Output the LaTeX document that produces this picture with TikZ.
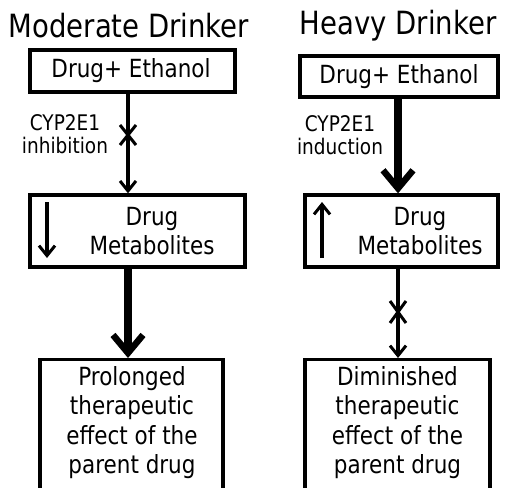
\documentclass[tikz,border=0pt]{standalone}
\usepackage{fontspec}
\setmainfont{DejaVu Sans}[FakeStretch=0.86]
\usetikzlibrary{arrows.meta,calc}
\tikzset{
  boxstyle/.style={draw, line width=3.3pt, inner sep=0pt},
  txt/.style={inner sep=0pt, align=center, font=\fontsize{25}{29.5}\selectfont},
  titletxt/.style={inner sep=0pt, font=\fontsize{32}{34}\selectfont},
  lbl/.style={inner sep=0pt, align=center, font=\fontsize{21.5}{22.5}\selectfont},
  thin arrow/.style={line width=3.2pt, -{Straight Barb[length=10pt,width=16pt,line width=3pt]}},
  thick arrow/.style={line width=8pt, -{Straight Barb[length=18pt,width=30pt,line width=6.5pt]}},
  xmark/.style={line width=3pt}
}
\begin{document}
\begin{tikzpicture}[x=1pt,y=1pt]
\useasboundingbox (0,0) rectangle (511,-487);
% titles
\node[titletxt] (t1) at (129,-26) {Moderate Drinker};
\node[titletxt] (t2) at (398,-26) {Heavy Drinker};
% left column
\node[boxstyle, minimum width=205pt, minimum height=42pt] (a1) at (132.5,-71) {};
\node[txt] (a1t) at (131,-71) {Drug+ Ethanol};
\node[boxstyle, minimum width=215pt, minimum height=72pt] (b1) at (137.5,-231) {};
\node[txt] (b1t) at (152,-231) {Drug\\Metabolites};
\node[boxstyle, minimum width=183pt, minimum height=142pt, anchor=north] (c1) at (131.5,-358) {};
\node[txt, anchor=north] (c1t) at (132,-366) {Prolonged\\therapeutic\\effect of the\\parent drug};
\coordinate (p1) at (128,0);
\draw[thin arrow] (a1.south -| p1) -- (b1.north -| p1);
\draw[xmark] ($(128,-135)+(-8,-10)$) -- ($(128,-135)+(8,10)$);
\draw[xmark] ($(128,-135)+(-8,10)$) -- ($(128,-135)+(8,-10)$);
\node[lbl] (l1) at (65,-134) {CYP2E1\\inhibition};
\draw[thick arrow] (b1.south -| p1) -- (c1.north -| p1);
\coordinate (d1a) at (47,-202);
\coordinate (d1b) at (47,-258);
\draw[thin arrow] (d1a) -- (d1b);
% right column
\node[boxstyle, minimum width=198pt, minimum height=41pt] (a2) at (399,-76.5) {};
\node[txt] (a2t) at (399,-76.5) {Drug+ Ethanol};
\node[boxstyle, minimum width=193pt, minimum height=72pt] (b2) at (401.5,-231) {};
\node[txt] (b2t) at (420,-231) {Drug\\Metabolites};
\node[boxstyle, minimum width=185pt, minimum height=142pt, anchor=north] (c2) at (397.5,-358) {};
\node[txt, anchor=north] (c2t) at (397.5,-366) {Diminished\\therapeutic\\effect of the\\parent drug};
\coordinate (p2) at (398,0);
\draw[thick arrow] (a2.south -| p2) -- (b2.north -| p2);
\node[lbl] (l2) at (340,-135) {CYP2E1\\induction};
\draw[thin arrow] (b2.south -| p2) -- (c2.north -| p2);
\draw[xmark] ($(398,-312)+(-8,-11)$) -- ($(398,-312)+(8,11)$);
\draw[xmark] ($(398,-312)+(-8,11)$) -- ($(398,-312)+(8,-11)$);
\coordinate (u2a) at (322,-258);
\coordinate (u2b) at (322,-202);
\draw[thin arrow] (u2a) -- (u2b);
\end{tikzpicture}
\end{document}
